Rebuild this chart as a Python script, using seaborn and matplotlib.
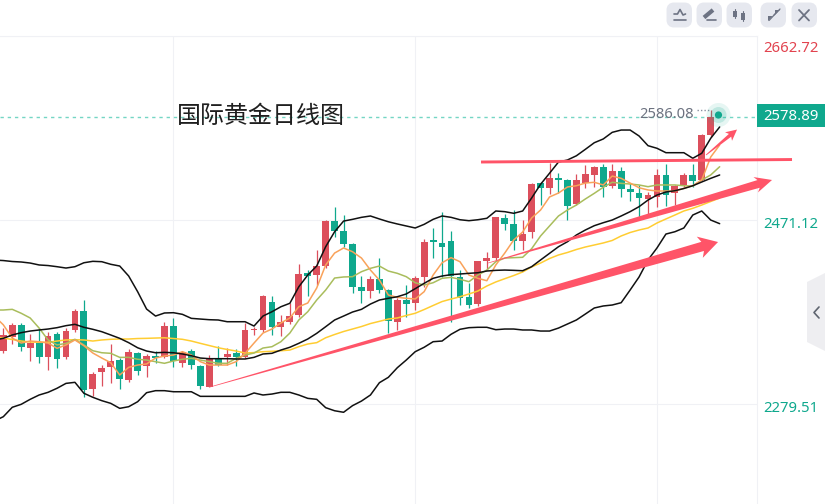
import matplotlib
matplotlib.use("Agg")
import matplotlib.pyplot as plt
import numpy as np
import seaborn as sns
from matplotlib.patches import Circle, FancyBboxPatch, Polygon, Rectangle

TITLE = "国际黄金日线图"
LAST_PRICE = 2578.89
HIGH_PRICE = 2586.08
AXIS_PRICES = [2662.72, 2471.12, 2279.51]
AXIS_LABELS = ["2662.72", "2471.12", "2279.51"]
GRID_CANDLES = [19, 46, 73]

opens = [2334.7, 2349.6, 2361.7, 2338.1, 2342.7, 2328.1, 2352.4, 2328.1, 2356.5, 2376.0,
         2294.8, 2312.5, 2317.7, 2325.3, 2304.5, 2332.9, 2319.0, 2329.5, 2328.8, 2360.7,
         2321.8, 2334.7, 2319.0, 2297.5, 2327.0, 2328.1, 2332.2, 2328.8, 2356.5, 2356.5,
         2386.0, 2359.3, 2364.6, 2372.2, 2416.3, 2413.8, 2423.2, 2470.1, 2459.3, 2446.1,
         2401.7, 2397.5, 2409.7, 2398.2, 2364.6, 2387.8, 2384.3, 2411.4, 2450.3, 2447.5,
         2449.2, 2411.4, 2391.3, 2383.3, 2428.4, 2431.2, 2473.5, 2467.0, 2449.6, 2458.3,
         2510.0, 2504.1, 2515.2, 2512.8, 2487.8, 2509.3, 2518.3, 2526.0, 2506.5, 2521.8,
         2503.4, 2499.6, 2493.3, 2495.4, 2518.0, 2498.9, 2507.6, 2518.0, 2512.8, 2560.0]
highs = [2359.0, 2364.2, 2363.5, 2352.4, 2359.0, 2354.8, 2354.8, 2358.3, 2378.4, 2387.8,
         2313.1, 2320.1, 2342.0, 2327.0, 2336.4, 2334.0, 2331.5, 2334.7, 2365.2, 2369.4,
         2335.0, 2336.4, 2320.1, 2330.5, 2339.9, 2338.1, 2336.4, 2364.2, 2360.0, 2393.0,
         2392.0, 2372.2, 2384.3, 2425.3, 2419.0, 2439.9, 2471.1, 2484.3, 2476.3, 2446.8,
         2412.8, 2412.8, 2431.9, 2398.9, 2389.5, 2403.4, 2412.8, 2451.0, 2463.1, 2479.1,
         2459.7, 2419.0, 2405.9, 2428.8, 2437.4, 2474.6, 2477.4, 2481.5, 2471.1, 2510.0,
         2511.0, 2530.8, 2520.4, 2513.5, 2519.0, 2528.4, 2527.4, 2529.4, 2529.4, 2526.7,
         2510.0, 2507.6, 2500.6, 2524.2, 2529.4, 2507.6, 2519.7, 2529.4, 2560.7, 2586.08]
lows = [2332.9, 2341.6, 2335.0, 2324.3, 2321.8, 2314.9, 2316.6, 2326.7, 2354.1, 2286.4,
        2288.2, 2298.2, 2301.0, 2295.4, 2302.7, 2309.7, 2307.2, 2321.8, 2327.0, 2317.7,
        2317.7, 2315.6, 2294.8, 2296.8, 2319.0, 2320.1, 2319.0, 2327.0, 2351.3, 2354.8,
        2351.4, 2350.3, 2362.8, 2370.4, 2392.0, 2403.4, 2420.8, 2453.8, 2443.3, 2394.7,
        2384.3, 2389.5, 2394.7, 2353.8, 2356.6, 2369.8, 2377.4, 2401.7, 2431.2, 2411.4,
        2365.2, 2382.6, 2379.1, 2381.9, 2419.0, 2429.5, 2460.7, 2439.9, 2439.9, 2452.0,
        2486.7, 2498.2, 2498.9, 2471.1, 2486.7, 2504.1, 2505.1, 2494.7, 2504.8, 2494.7,
        2491.3, 2474.6, 2475.3, 2485.0, 2485.7, 2486.7, 2505.8, 2505.8, 2512.1, 2557.9]
closes = [2351.3, 2361.7, 2339.2, 2342.7, 2328.1, 2350.3, 2326.7, 2355.5, 2376.0, 2294.1,
          2310.7, 2316.6, 2324.3, 2305.2, 2333.3, 2314.2, 2329.5, 2327.7, 2360.7, 2324.3,
          2334.0, 2320.1, 2298.2, 2326.3, 2320.1, 2331.5, 2328.1, 2356.5, 2357.2, 2391.9,
          2360.0, 2364.6, 2371.5, 2414.9, 2412.8, 2423.2, 2470.1, 2460.0, 2446.1, 2401.0,
          2397.2, 2410.0, 2398.2, 2366.3, 2387.8, 2383.6, 2411.0, 2448.5, 2447.9, 2442.7,
          2412.8, 2389.5, 2382.3, 2428.4, 2431.9, 2473.9, 2466.6, 2449.6, 2456.5, 2508.6,
          2504.8, 2515.2, 2512.8, 2486.1, 2512.8, 2519.0, 2526.0, 2505.8, 2521.8, 2503.8,
          2500.6, 2493.7, 2496.8, 2518.0, 2497.2, 2506.9, 2518.0, 2512.1, 2560.0, 2578.89]

# indicator series start one candle before the first visible candle
boll_upper = [2429.4,
              2428.9, 2427.9, 2427.4, 2426.3, 2424.3, 2423.7, 2422.5, 2421.1, 2422.5, 2426.6,
              2428.1, 2427.7, 2425.0, 2423.2, 2412.8, 2396.5, 2378.4, 2371.1, 2374.3, 2374.6,
              2372.9, 2368.7, 2368.0, 2367.3, 2367.0, 2365.2, 2365.2, 2365.2, 2360.7, 2371.1,
              2375.6, 2380.8, 2384.4, 2401.6, 2413.8, 2423.2, 2443.3, 2458.9, 2470.0, 2471.8,
              2473.9, 2475.3, 2472.2, 2469.3, 2467.0, 2464.9, 2462.8, 2466.6, 2471.8, 2475.3,
              2473.9, 2471.4, 2470.4, 2471.4, 2472.9, 2480.5, 2479.8, 2478.1, 2480.5, 2494.0,
              2508.3, 2519.8, 2531.5, 2533.6, 2538.0, 2544.7, 2551.6, 2555.5, 2562.4, 2564.8,
              2564.8, 2558.6, 2548.5, 2545.8, 2541.2, 2541.2, 2541.2, 2535.4, 2540.6, 2556.2, 2568.0]
boll_mid = [2346.2,
            2347.9, 2351.4, 2353.8, 2355.5, 2356.6, 2357.6, 2359.0, 2361.1, 2362.5, 2359.4,
            2357.3, 2354.8, 2351.4, 2347.9, 2343.4, 2338.1, 2334.7, 2332.9, 2333.3, 2332.9,
            2331.6, 2329.8, 2327.4, 2326.7, 2326.7, 2326.7, 2326.4, 2326.4, 2328.1, 2331.6,
            2332.3, 2335.7, 2338.6, 2342.7, 2347.2, 2353.1, 2360.0, 2367.0, 2371.1, 2375.3,
            2378.1, 2383.6, 2387.8, 2389.6, 2391.2, 2394.1, 2399.6, 2405.2, 2410.4, 2412.8,
            2414.2, 2414.9, 2415.6, 2416.2, 2418.0, 2418.7, 2419.0, 2418.7, 2418.3, 2422.5,
            2429.5, 2436.4, 2443.3, 2448.5, 2455.5, 2460.7, 2465.2, 2468.3, 2471.1, 2475.3,
            2479.8, 2485.0, 2491.9, 2497.1, 2500.3, 2501.6, 2503.9, 2506.8, 2510.7, 2514.5, 2518.0]
boll_lower = [2261.8,
              2266.3, 2276.1, 2279.2, 2284.4, 2288.9, 2291.7, 2295.9, 2301.0, 2302.1, 2290.7,
              2286.5, 2283.0, 2280.2, 2275.0, 2276.7, 2281.9, 2291.3, 2293.4, 2293.4, 2292.3,
              2292.3, 2292.3, 2287.5, 2287.5, 2287.5, 2287.5, 2287.5, 2287.5, 2291.0, 2288.9,
              2289.9, 2291.7, 2291.7, 2288.9, 2285.4, 2284.4, 2275.7, 2272.5, 2270.9, 2277.8,
              2282.6, 2288.9, 2301.7, 2307.3, 2317.3, 2325.3, 2334.0, 2338.6, 2344.4, 2345.1,
              2352.1, 2357.3, 2359.0, 2359.4, 2359.4, 2356.9, 2357.6, 2357.6, 2356.6, 2356.6,
              2355.5, 2355.5, 2358.6, 2362.8, 2367.0, 2373.2, 2379.5, 2381.6, 2382.6, 2385.0,
              2398.2, 2411.8, 2429.5, 2442.0, 2456.5, 2458.9, 2462.8, 2476.3, 2480.5, 2471.1, 2467.3]
ma_fast = [2371.0,
           2362.0, 2348.2, 2343.0, 2345.1, 2344.4, 2343.0, 2337.5, 2341.0, 2346.2, 2340.2,
           2332.6, 2327.4, 2322.5, 2309.7, 2317.7, 2320.1, 2321.2, 2327.4, 2329.5, 2330.5,
           2334.0, 2330.5, 2323.6, 2320.1, 2320.1, 2320.1, 2323.6, 2332.3, 2343.0, 2353.4,
           2357.6, 2363.9, 2369.1, 2380.8, 2384.7, 2400.3, 2424.3, 2436.7, 2442.0, 2438.1,
           2431.5, 2419.0, 2408.6, 2393.0, 2390.6, 2389.6, 2388.9, 2396.5, 2413.8, 2426.6,
           2431.9, 2427.7, 2413.8, 2410.4, 2407.9, 2424.3, 2436.7, 2450.3, 2458.6, 2473.2,
           2481.5, 2495.1, 2499.2, 2505.5, 2506.8, 2509.6, 2510.4, 2507.6, 2516.9, 2514.5,
           2509.6, 2504.7, 2502.4, 2501.3, 2501.3, 2501.3, 2504.1, 2506.8, 2512.8, 2536.7, 2549.2]
ma_mid = [2377.4,
          2377.4, 2378.1, 2374.0, 2369.1, 2358.6, 2346.2, 2341.0, 2342.7, 2346.9, 2341.0,
          2335.0, 2332.9, 2332.3, 2328.1, 2328.1, 2326.1, 2325.3, 2323.6, 2321.9, 2324.3,
          2326.1, 2327.1, 2325.3, 2323.6, 2321.9, 2321.9, 2327.1, 2330.5, 2332.6, 2337.8,
          2339.2, 2344.4, 2353.4, 2367.0, 2375.6, 2387.8, 2398.2, 2410.7, 2411.8, 2412.1,
          2417.3, 2420.8, 2423.2, 2418.0, 2415.6, 2412.1, 2405.8, 2403.4, 2405.8, 2410.4,
          2411.4, 2409.4, 2406.9, 2413.8, 2419.0, 2427.7, 2431.5, 2431.9, 2432.3, 2441.2,
          2454.5, 2464.9, 2475.3, 2481.5, 2486.7, 2493.0, 2498.9, 2505.2, 2510.4, 2509.3,
          2508.6, 2507.6, 2505.8, 2507.6, 2507.6, 2507.6, 2506.8, 2506.5, 2512.8, 2518.0, 2526.6]
ma_slow = [2349.0,
           2348.2, 2346.7, 2345.1, 2344.1, 2343.8, 2343.8, 2345.1, 2346.2, 2346.5, 2346.2,
           2345.1, 2346.2, 2346.9, 2347.2, 2347.2, 2347.7, 2347.9, 2348.2, 2348.5, 2347.7,
           2346.9, 2345.1, 2342.7, 2340.4, 2338.1, 2336.3, 2334.7, 2332.6, 2333.1, 2334.0,
           2334.4, 2335.0, 2335.7, 2339.2, 2342.0, 2343.4, 2348.5, 2351.9, 2355.0, 2357.6,
           2360.2, 2363.3, 2365.6, 2368.0, 2369.1, 2371.7, 2374.0, 2377.9, 2382.1, 2386.2,
           2388.8, 2391.2, 2394.1, 2397.2, 2402.4, 2406.6, 2410.0, 2413.3, 2417.0, 2422.2,
           2426.3, 2431.0, 2434.7, 2437.3, 2440.4, 2443.0, 2445.1, 2447.2, 2449.8, 2454.5,
           2458.1, 2460.7, 2462.8, 2468.0, 2472.2, 2476.3, 2480.5, 2483.3, 2486.7, 2490.4, 2494.0]

# hand drawn trend marks, (candle index, price) at both ends
long_arrow_idx = [23.08, 79.82]
long_arrow_price = [2297.2, 2448.2]
mid_arrow_idx = [54.13, 85.85]
mid_arrow_price = [2426.3, 2512.8]
small_arrow_idx = [78.48, 81.94]
small_arrow_price = [2538.8, 2565.3]
neck_idx = [53.35, 88.08]
neck_price = [2531.5, 2534.1]

UP = "#dc4f5c"
DOWN = "#0fa88d"
MARK = "#ff5468"
GRID = "#f0f1f5"
ICON = "#6d7383"

sns.set_theme(style="white")
plt.rcParams["font.family"] = ["Noto Sans", "Noto Sans CJK SC", "DejaVu Sans"]

fig = plt.figure(figsize=(8.25, 5.04), dpi=100)
# chart pane ends at the price scale, top edge on the first grid line
ax = fig.add_axes([0, 0, 757 / 825, 468 / 504])
ax.set_xlim(-0.369, 84.17)
ax.set_ylim(2175.4, AXIS_PRICES[0])

ax.set_xticks(GRID_CANDLES)
ax.set_yticks(AXIS_PRICES)
ax.set_xticklabels([])
ax.set_yticklabels([])
ax.tick_params(length=0)
ax.grid(True, color=GRID, linewidth=0.8)
ax.set_axisbelow(True)
for name, spine in ax.spines.items():
    spine.set_color(GRID)
    spine.set_linewidth(0.8)
    spine.set_visible(name in ("top", "right"))

# candles
idx = np.arange(len(closes))
o, h, l, c = map(np.array, (opens, highs, lows, closes))
colors = [UP if a >= b else DOWN for a, b in zip(c, o)]
ax.vlines(idx, l, h, colors=colors, linewidth=0.9, zorder=2)
ax.bar(idx, np.maximum(np.abs(c - o), 0.8), bottom=np.minimum(c, o), width=0.76,
       color=colors, linewidth=0, zorder=3)

# indicators
line_styles = [(ma_slow, "#ffcd32", 1.1), (ma_mid, "#a9bd5c", 1.1), (ma_fast, "#f9a25a", 1.1),
               (boll_upper, "#111111", 1.1), (boll_mid, "#111111", 1.1), (boll_lower, "#111111", 1.1)]
for values, color, width in line_styles:
    sns.lineplot(x=np.arange(len(values)) - 1, y=values, ax=ax, color=color, linewidth=width,
                 estimator=None, sort=False, legend=False, zorder=4)
ax.set_xlim(-0.369, 84.17)
ax.set_xlabel("")
ax.set_ylabel("")

# last price line
ax.axhline(LAST_PRICE, color="#74d6c4", linewidth=1.0, dashes=(2.4, 2.8), zorder=1)
ax.plot([77.5, 78.9], [HIGH_PRICE, HIGH_PRICE], color="#8a90a0", linewidth=1, dashes=(1, 1.5), zorder=5)
ax.text(77.15, 2580.8, f"{HIGH_PRICE:.2f}", color="#6c7280", fontsize=10.6, ha="right", va="center", zorder=6)
ax.text(19.4, 2579.5, TITLE, color="#1f1f1f", fontsize=17.3, ha="left", va="center",
        family=["Noto Sans CJK SC", "DejaVu Sans"], zorder=6)


def tapered_arrow(xs, ys, w0, w1, head_w, head_len, notch):
    # width grows along the shaft, worked out in pixels so the head is not skewed
    (x0, y0), (x1, y1) = ax.transData.transform(np.column_stack([xs, ys]))
    d = np.array([x1 - x0, y1 - y0])
    length = np.hypot(*d)
    d = d / length
    n = np.array([-d[1], d[0]])
    start = np.array([x0, y0])
    tip = np.array([x1, y1])
    base = tip - d * head_len
    neck = tip - d * (head_len - notch)
    pts = [start + n * w0 / 2, neck + n * w1 / 2, base + n * head_w / 2, tip,
           base - n * head_w / 2, neck - n * w1 / 2, start - n * w0 / 2]
    fig.add_artist(Polygon(pts, closed=True, facecolor=MARK, edgecolor="none", transform=None, zorder=7))


tapered_arrow(long_arrow_idx, long_arrow_price, 0.6, 9.5, 22, 19, 3)
tapered_arrow(mid_arrow_idx, mid_arrow_price, 0.6, 8, 16, 17, 3)
tapered_arrow(small_arrow_idx, small_arrow_price, 0.8, 3.6, 11, 11, 2)
ax.plot(neck_idx, neck_price, color=MARK, linewidth=2.1, solid_capstyle="butt", clip_on=False, zorder=7)

# everything outside the pane goes on an overlay in pixel coordinates
ui = fig.add_axes([0, 0, 1, 1], zorder=10)
ui.set_xlim(0, 825)
ui.set_ylim(504, 0)
ui.axis("off")
ui.patch.set_alpha(0)

# pulse dot
ui.add_patch(Circle((718.5, 115), 12, color=DOWN, alpha=0.10, linewidth=0))
ui.add_patch(Circle((718.5, 115), 8, color=DOWN, alpha=0.18, linewidth=0))
ui.add_patch(Circle((718.5, 115), 3.6, color=DOWN, linewidth=0))

# price scale
label_y = [48, 225, 408]
label_colors = ["#e2434f", DOWN, DOWN]
for text, y, color in zip(AXIS_LABELS, label_y, label_colors):
    ui.text(763.5, y, text, color=color, fontsize=10.7, ha="left", va="center")
ui.add_patch(Rectangle((757, 104), 68, 23, color=DOWN, linewidth=0))
ui.text(790.5, 116.5, f"{LAST_PRICE:.2f}", color="white", fontsize=10.7, fontweight="bold", ha="center", va="center")

# toolbar
for left in [667, 697, 727, 761, 792]:
    ui.add_patch(FancyBboxPatch((left + 3, 6), 18.5, 18, boxstyle="round,pad=0,rounding_size=4",
                                mutation_aspect=1, facecolor="#e6e8ef", edgecolor="#e6e8ef", linewidth=5))
ui.plot([674, 677.5, 680, 683, 685.5], [14, 14, 9.5, 15, 14], color=ICON, lw=1.2)
ui.plot([673.5, 685.5], [19.5, 19.5], color=ICON, lw=1.2)
ui.plot([704, 713], [17.5, 10], color=ICON, lw=3, solid_capstyle="butt")
ui.plot([707, 715.5], [19.5, 19.5], color=ICON, lw=1.2)
ui.plot([735, 735], [9, 18], color=ICON, lw=0.8)
ui.plot([743, 743], [11, 21], color=ICON, lw=0.8)
ui.add_patch(Rectangle((733, 10.5), 4, 6, color=ICON, linewidth=0))
ui.add_patch(Rectangle((741, 13), 4, 6.5, color=ICON, linewidth=0))
ui.plot([769, 777], [20.5, 12], color=ICON, lw=0.9)
ui.plot([774, 780], [15, 9], color=ICON, lw=0.9)
ui.add_patch(Polygon([[768, 16], [772.5, 16], [768, 21]], closed=True, color=ICON, linewidth=0))
ui.add_patch(Polygon([[775, 10], [775, 14.5], [780, 10]], closed=True, color=ICON, linewidth=0))
ui.plot([799, 809], [10, 20.5], color=ICON, lw=1.3)
ui.plot([799, 809], [20.5, 10], color=ICON, lw=1.3)

# collapse tab on the right edge
ui.add_patch(Polygon([[807, 282], [825, 273], [825, 351], [807, 342]], closed=True,
                     facecolor="#eeeef1", edgecolor="none"))
ui.plot([819, 814, 819], [307, 312.5, 318], color="#5f6570", lw=1.2)

fig.savefig("out.png", dpi=100, facecolor="white")
